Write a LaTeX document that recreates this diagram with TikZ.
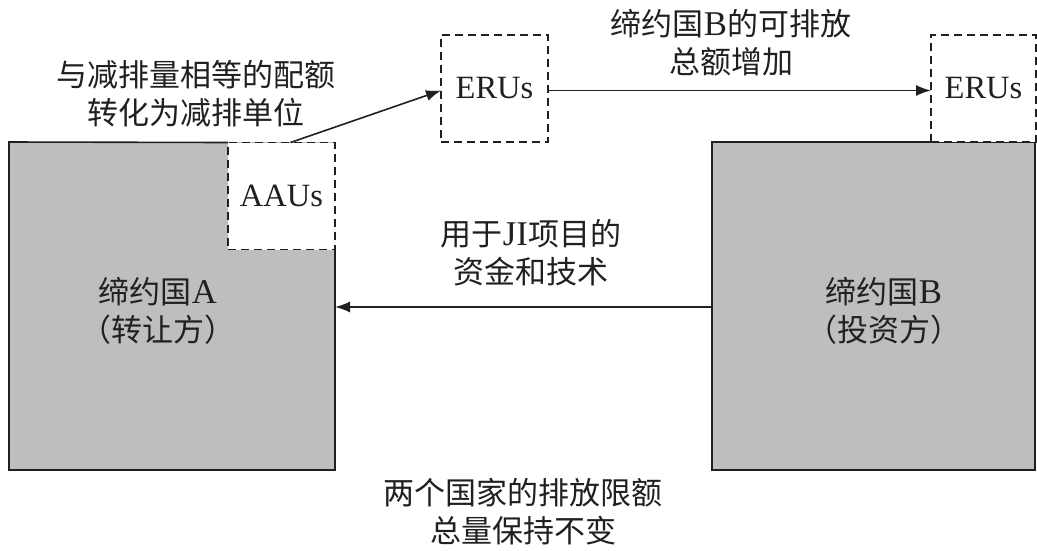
\documentclass[tikz,border=0pt]{standalone}
\usepackage{fontspec}
\setmainfont{Liberation Serif}[Scale=1.12]
\newfontfamily\cjk{Noto Sans CJK SC}
\usetikzlibrary{arrows.meta}
\definecolor{boxgray}{RGB}{188,190,192}
\definecolor{ink}{RGB}{35,31,32}
\begin{document}
\begin{tikzpicture}[x=1pt,y=-1pt,
  country/.style={fill=boxgray, draw=none, inner sep=0pt, outer sep=0pt, minimum height=328pt},
  unitbox/.style={draw=ink, line width=1.5pt, dash pattern=on 8pt off 5pt, fill=white,
    minimum height=107pt, inner sep=0pt, outer sep=0pt, text=ink, font=\fontsize{29}{34}\selectfont},
  lbl/.style={text=ink, align=center, inner sep=0pt, font=\fontsize{31}{38}\selectfont},
  border/.style={draw=ink, line width=1.6pt},
  link/.style={draw=ink, line width=1.6pt, -{Latex[length=15pt,width=11pt]}}
]
\useasboundingbox (0,0) rectangle (1037,550);

% countries
\node[country, minimum width=326pt] (A) at (172,306) {};
\node[country, minimum width=323pt] (B) at (873.5,306) {};
\node[unitbox, minimum width=107pt] (aau) at (281.5,196) {AAUs};
\draw[border] (aau.north west) -- (A.north west) -- (A.south west) -- (A.south east) -- (aau.south east);
\draw[border] (B.north west) rectangle (B.south east);

% ERUs
\node[unitbox, minimum width=107pt] (eru1) at (494.5,88.5) {ERUs};
\node[unitbox, minimum width=105pt] (eru2) at (983.5,88.5) {ERUs};

% labels
\node[lbl] (la) at (158,311) {{\cjk 缔约国}A\\{\cjk （转让方）}};
\node[lbl] (lb) at (884,311) {{\cjk 缔约国}B\\{\cjk （投资方）}};
\node[lbl] (t1) at (196,94) {{\cjk 与减排量相等的配额}\\{\cjk 转化为减排单位}};
\node[lbl] (t2) at (731,43) {{\cjk 缔约国}B{\cjk 的可排放}\\{\cjk 总额增加}};
\node[lbl] (t3) at (531,253) {{\cjk 用于}JI{\cjk 项目的}\\{\cjk 资金和技术}};
\node[lbl] (t4) at (523,512) {{\cjk 两个国家的排放限额}\\{\cjk 总量保持不变}};

% connectors
\draw[link] ([xshift=9pt]aau.north) -- ([yshift=-2pt]eru1.west);
\draw[link] ([yshift=-2pt]eru1.east) -- ([yshift=-2pt]eru2.west);
\draw[link] ([yshift=-1pt]B.west) -- ([yshift=-1pt]A.east);
\end{tikzpicture}
\end{document}
